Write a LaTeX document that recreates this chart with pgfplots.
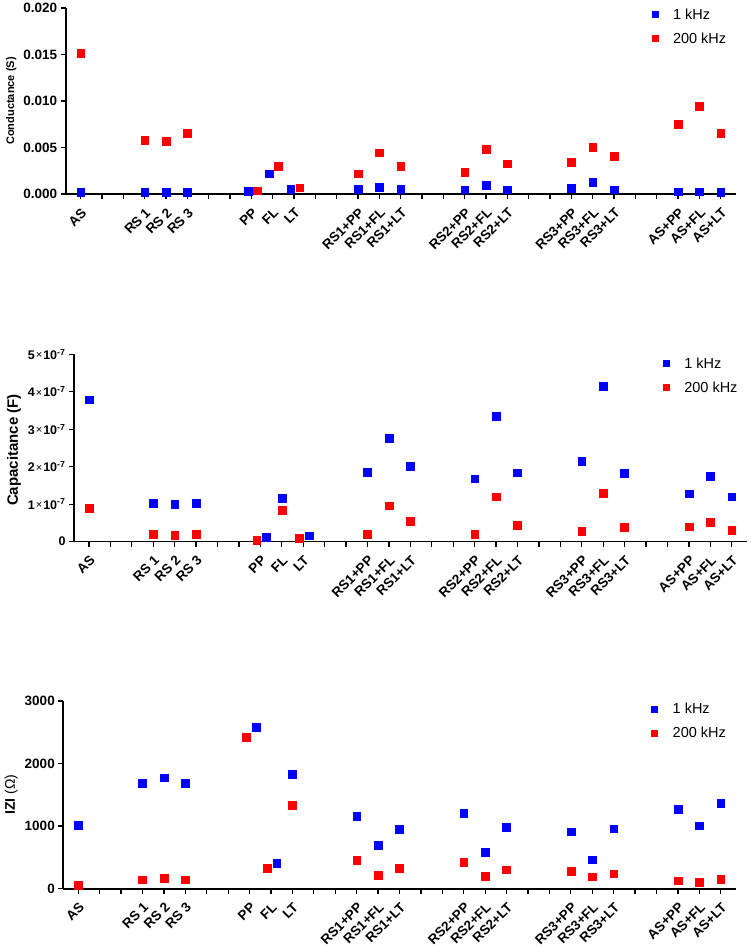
\documentclass[border=0pt]{standalone}
\usepackage{pgfplots}
\pgfplotsset{compat=1.18}
\usepackage{fontspec}
\setmainfont{Liberation Sans}
\definecolor{pblue}{RGB}{0,0,255}
\definecolor{pred}{RGB}{255,0,0}
\newcommand{\sci}[1]{\textbf{#1}\kern1pt{\fontsize{11}{12}\selectfont\mdseries\raisebox{0.5pt}{×}}\kern1pt\textbf{10}\textsuperscript{\textbf{-7}}}
\pgfplotsset{
 panel/.style={
  scale only axis,
  xmin=-0.7, xmax=30.7,
  axis x line*=bottom, axis y line*=left,
  axis line style={-, line width=1.6pt},
  major tick style={line width=1.3pt, black},
  tick align=outside,
  major tick length=5pt,
  xtick={0,...,30},
  xticklabels={AS,,,RS 1,RS 2,RS 3,,,PP,FL,LT,,,RS1+PP,RS1+FL,RS1+LT,,,RS2+PP,RS2+FL,RS2+LT,,,RS3+PP,RS3+FL,RS3+LT,,,AS+PP,AS+FL,AS+LT},
  xticklabel style={rotate=45, anchor=north east, font=\fontsize{13.5}{15}\selectfont\bfseries, inner sep=2pt},
  xticklabel shift=5pt,
  yticklabel style={font=\fontsize{13.5}{15}\selectfont\bfseries},
  /pgf/number format/assume math mode=true,
  clip=false,
  legend style={draw=none, fill=none, font=\fontsize{14.5}{17}\selectfont, row sep=8pt, anchor=north west},
  legend cell align=left,
  legend image code/.code={\node[draw=none, fill=none, inner sep=0pt, minimum width=12pt, minimum height=6pt] at (4pt,0pt) {}; \draw[#1, mark size=3pt] plot coordinates {(0pt,0pt)};},
 },
 b/.style={only marks, mark=square*, mark size=3.9pt, color=pblue, mark options={draw=none}},
 r/.style={only marks, mark=square*, mark size=3.9pt, color=pred, mark options={draw=none}},
}
\begin{document}
\begin{tikzpicture}
\useasboundingbox (0,0) rectangle (750pt,948pt);
% Panel 1: Conductance
\begin{axis}[panel, at={(65.7pt,754pt)}, anchor=south west, width=670pt, height=186pt,
  ymin=0, ymax=0.02, ytick={0,0.005,0.01,0.015,0.02}, scaled y ticks=false,
  yticklabel style={/pgf/number format/fixed, /pgf/number format/precision=3, /pgf/number format/fixed zerofill},
  ylabel={Conductance (S)}, ylabel style={font=\fontsize{11}{13}\selectfont\bfseries},
  legend style={at={(0.870,1.019)}}]
\addplot[b] coordinates {(0,0.00018)(3,0.00018)(4,0.0002)(5,0.00018)(7.85,0.00032)(8.83,0.00219)(9.84,0.0005)(13,0.00054)(14,0.00072)(15,0.00054)(18,0.00047)(19,0.00093)(20,0.00047)(23,0.00061)(24,0.00129)(25,0.00047)(28,0.00025)(29,0.00025)(30,0.00018)};
\addlegendentry{1 kHz}
\addplot[r] coordinates {(0,0.01513)(3,0.00581)(4,0.0057)(5,0.00652)(8.26,0.00036)(9.27,0.00301)(10.27,0.00068)(13,0.00219)(14,0.00444)(15,0.00301)(18,0.00233)(19,0.00484)(20,0.00326)(23,0.00344)(24,0.00505)(25,0.00405)(28,0.00753)(29,0.00943)(30,0.00652)};
\addlegendentry{200 kHz}
\end{axis}
% Panel 2: Capacitance
\begin{axis}[panel, at={(74pt,406.3pt)}, anchor=south west, width=672.7pt, height=187.4pt,
  ymin=0, ymax=5e-7, ytick={0,1e-7,2e-7,3e-7,4e-7,5e-7}, scaled y ticks=false,
  yticklabels={\textbf{0},\sci{1},\sci{2},\sci{3},\sci{4},\sci{5}},
  yticklabel style={font=\fontsize{12.5}{15}\selectfont\bfseries},
  ylabel={Capacitance (F)}, ylabel style={font=\fontsize{15}{17}\selectfont\bfseries, xshift=-2pt},
  legend style={at={(0.871,1.005)}}]
\addplot[b] coordinates {(0,3.79e-7)(3,1.02e-7)(4,1.01e-7)(5,1.02e-7)(8.26,0.12e-7)(9,1.17e-7)(10.27,0.16e-7)(13,1.85e-7)(14,2.76e-7)(15,2.01e-7)(18,1.68e-7)(19,3.35e-7)(20,1.84e-7)(23,2.15e-7)(24,4.15e-7)(25,1.83e-7)(28,1.28e-7)(29,1.75e-7)(30,1.20e-7)};
\addlegendentry{1 kHz}
\addplot[r] coordinates {(0,0.89e-7)(3,0.19e-7)(4,0.18e-7)(5,0.19e-7)(7.83,0.05e-7)(9,0.85e-7)(9.83,0.09e-7)(13,0.20e-7)(14,0.96e-7)(15,0.55e-7)(18,0.20e-7)(19,1.20e-7)(20,0.44e-7)(23,0.28e-7)(24,1.30e-7)(25,0.39e-7)(28,0.40e-7)(29,0.52e-7)(30,0.31e-7)};
\addlegendentry{200 kHz}
\end{axis}
% Panel 3: |Z|
\begin{axis}[panel, at={(63.3pt,59.3pt)}, anchor=south west, width=672.4pt, height=187.7pt,
  ymin=0, ymax=3000, ytick={0,1000,2000,3000},
  yticklabel style={/pgf/number format/1000 sep={}},
  ylabel={\textbf{IZI} (Ω)}, ylabel style={font=\fontsize{14}{16}\selectfont},
  legend style={at={(0.870,1.01)}}]
\addplot[b] coordinates {(0,1012)(3,1689)(4,1774)(5,1689)(8.29,2579)(9.27,410)(10,1828)(13,1156)(14,693)(15,948)(18,1204)(19,581)(20,986)(23,911)(24,464)(25,959)(28,1268)(29,1007)(30,1364)};
\addlegendentry{1 kHz}
\addplot[r] coordinates {(0,53)(3,144)(4,171)(5,144)(7.84,2424)(8.83,330)(10,1332)(13,458)(14,218)(15,325)(18,421)(19,197)(20,304)(23,282)(24,192)(25,240)(28,128)(29,101)(30,149)};
\addlegendentry{200 kHz}
\end{axis}
\end{tikzpicture}
\end{document}
